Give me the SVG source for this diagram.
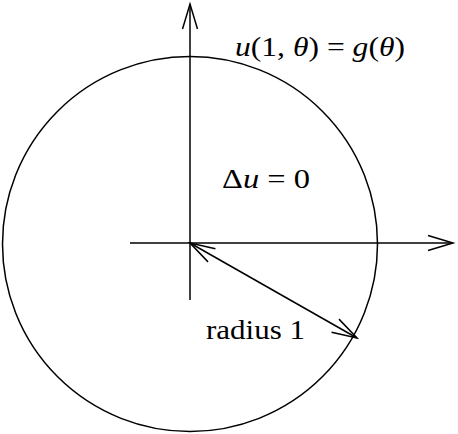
<svg xmlns="http://www.w3.org/2000/svg" width="458" height="434" viewBox="0 0 458 434">
<style>
.ln{fill:none;stroke:#000;stroke-width:1.5}
.t{font-family:"Liberation Serif","Times New Roman",serif;font-size:27px;fill:#000}
.i{font-style:italic}
</style>
<defs>
<marker id="ar" markerUnits="userSpaceOnUse" viewBox="-27 -10 30 20" markerWidth="30" markerHeight="20" refX="0" refY="0" orient="auto-start-reverse" overflow="visible">
<path d="M-25,-7.5 L0,0 L-25,7.5" fill="none" stroke="#000" stroke-width="1.5"/>
</marker>
</defs>
<g id="disk">
<circle class="ln" cx="190" cy="244" r="187.5"/>
</g>
<g id="connectors">
<line class="ln" x1="190" y1="300" x2="190" y2="4" marker-end="url(#ar)"/>
<line class="ln" x1="130" y1="243" x2="453" y2="243" marker-end="url(#ar)"/>
<line class="ln" x1="190" y1="243" x2="357" y2="338" marker-start="url(#ar)" marker-end="url(#ar)"/>
</g>
<g id="labels">
<text class="t" x="235" y="56" textLength="170" lengthAdjust="spacingAndGlyphs"><tspan class="i">u</tspan>(1, <tspan class="i">θ</tspan>) = <tspan class="i">g</tspan>(<tspan class="i">θ</tspan>)</text>
<text class="t" x="222" y="188" textLength="88" lengthAdjust="spacingAndGlyphs">Δ<tspan class="i">u</tspan> = 0</text>
<text class="t" x="206" y="339" textLength="99" lengthAdjust="spacingAndGlyphs">radius 1</text>
</g>
</svg>
